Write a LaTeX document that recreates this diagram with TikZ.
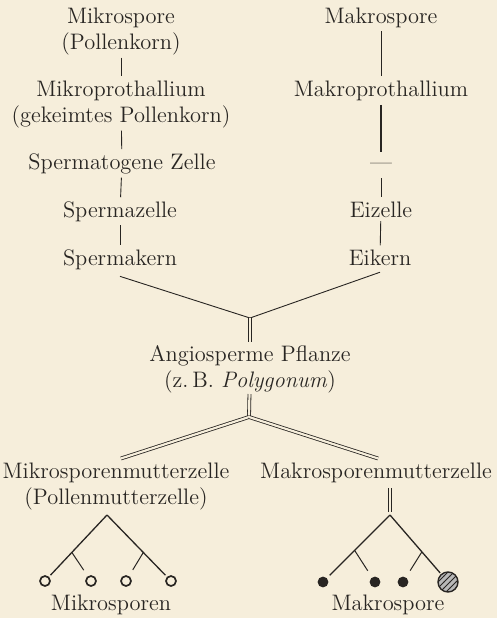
\documentclass[tikz,border=0pt]{standalone}
\usepackage{xcolor}
\usepackage{tikz}
\usetikzlibrary{patterns}

\definecolor{paper}{RGB}{246,238,219}
\definecolor{ink}{RGB}{40,37,34}

\begin{document}
\begin{tikzpicture}[x=0.5pt, y=-0.5pt,
  every node/.style={inner sep=0pt, outer sep=0pt},
  lbl/.style={font=\fontsize{11.2}{13}\selectfont, text=ink, align=center, anchor=base},
  link/.style={draw=ink, line width=0.45pt, shorten >=2pt, shorten <=2pt},
  dbl/.style={draw=ink, line width=0.4pt, double=paper, double distance=1.1pt},
  branch/.style={draw=ink, line width=0.65pt},
  opensp/.style={circle, draw=ink, line width=0.85pt, minimum size=5pt},
  fullsp/.style={circle, fill=ink, minimum size=5.4pt},
  eggsp/.style={circle, draw=ink, line width=0.7pt, minimum size=10pt,
    preaction={fill=gray!55}, pattern=north east lines, pattern color=ink}]
\fill[paper] (0,0) rectangle (497,618);
\useasboundingbox (0,0) rectangle (497,618);

% male line (two-line labels sit on their last line)
\node[lbl] (mispore) at (121,49)  {Mikrospore\\(Pollenkorn)};
\node[lbl] (miproth) at (121,122) {Mikroprothallium\\(gekeimtes Pollenkorn)};
\node[lbl] (spgen)   at (122,169) {Spermatogene Zelle};
\node[lbl] (spzelle) at (120,217) {Spermazelle};
\node[lbl] (spkern)  at (120,265) {Spermakern};

% female line
\node[lbl] (maspore) at (381,23)  {Makrospore};
\node[lbl] (maproth) at (381,96)  {Makroprothallium};
\node[lbl] (nogen)   at (381,169) {---};
\node[lbl] (eizelle) at (381,217) {Eizelle};
\node[lbl] (eikern)  at (380,265) {Eikern};

\draw[link, shorten <=1.5pt] (mispore) -- (miproth);
\draw[link, shorten <=1.5pt] (miproth) -- (spgen);
\draw[link] (spgen) -- (spzelle);
\draw[link] (spzelle) -- (spkern);
\draw[link] (maspore) -- (maproth);
\draw[link, line width=1pt, shorten <=2.3pt, shorten >=5.6pt] (maproth) -- (nogen);
\draw[link, shorten <=4.5pt] (nogen) -- (eizelle);
\draw[link] (eizelle) -- (eikern);

% fertilisation
\coordinate (fuse) at (250,318);
\draw[link, shorten <=0pt, shorten >=0pt] ([yshift=-3.5pt]spkern.south) -- (fuse);
\draw[link, shorten <=0pt, shorten >=0pt] ([yshift=-3.5pt]eikern.south) -- (fuse);

\node[lbl] (angio) at (250,387) {Angiosperme Pflanze\\(z.\,B. \textit{Polygonum})};
\draw[dbl, shorten >=1.7pt] (fuse) -- (angio);

% spore mother cells
\coordinate (split) at (249,417);
\node[lbl] (mimutter) at (116,504) {Mikrosporenmutterzelle\\(Pollenmutterzelle)};
\node[lbl] (mamutter) at (376,478) {Makrosporenmutterzelle};
\draw[dbl, shorten <=0.7pt] (angio) -- (split);
\draw[dbl] (split) -- ([xshift=2.5pt, yshift=2pt]mimutter.north);
\draw[dbl] (split) -- ([xshift=1pt, yshift=2pt]mamutter.north);

% tetrads
\coordinate (miapex) at (107,515);
\node[opensp] (c1) at (45,581) {};
\node[opensp] (c2) at (91,581) {};
\node[opensp] (c3) at (126,581) {};
\node[opensp] (c4) at (171,581) {};
\draw[branch, shorten >=1.5pt] (miapex) -- coordinate[pos=0.6] (mib1) (c1);
\draw[branch, shorten >=1.5pt] (miapex) -- coordinate[pos=0.6] (mib2) (c4);
\draw[branch, line width=0.5pt, shorten >=4pt] (mib1) -- (c2);
\draw[branch, line width=0.5pt, shorten >=4pt] (mib2) -- (c3);

\coordinate (maapex) at (390,515);
\draw[dbl, shorten <=3pt, shorten >=1.5pt] ([xshift=7pt]mamutter.south) -- (maapex);
\node[fullsp] (d1) at (323,582) {};
\node[fullsp] (d2) at (375,582) {};
\node[fullsp] (d3) at (403,582) {};
\node[eggsp]  (egg) at (448,582) {};
\draw[branch, shorten >=2pt] (maapex) -- coordinate[pos=0.56] (mab1) (d1);
\draw[branch, shorten >=1pt] (maapex) -- coordinate[pos=0.62] (mab2) (egg);
\draw[branch, line width=0.5pt, shorten >=4pt] (mab1) -- (d2);
\draw[branch, line width=0.5pt, shorten >=4pt] (mab2) -- (d3);

\node[lbl] (mikrosporen) at (111,610) {Mikrosporen};
\node[lbl] (makrospore)  at (388,610) {Makrospore};
\end{tikzpicture}
\end{document}
